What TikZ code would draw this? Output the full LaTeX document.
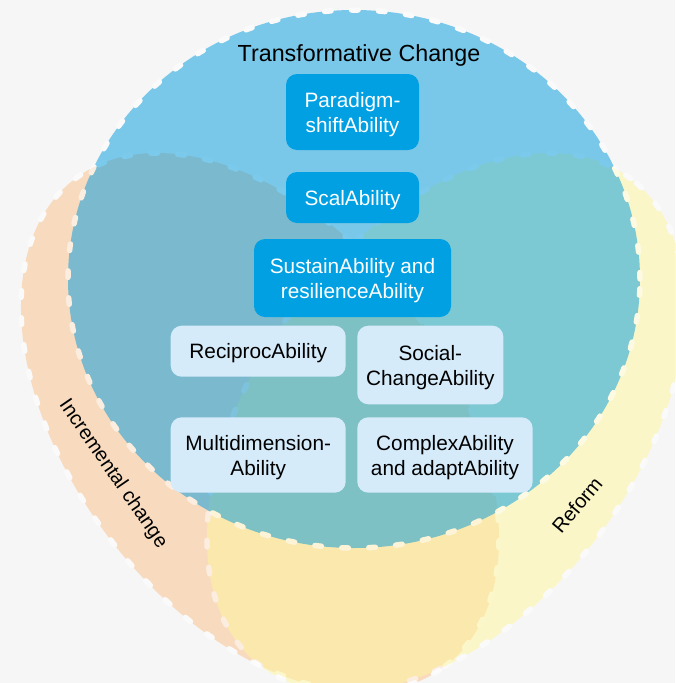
\documentclass[tikz,border=0pt]{standalone}
\usepackage{fontspec}
\setmainfont{Liberation Sans}
\definecolor{bgc}{RGB}{246,246,246}
\definecolor{peachc}{RGB}{250,194,138}
\definecolor{yellowc}{RGB}{255,246,156}
\definecolor{bluec}{RGB}{0,155,222}
\definecolor{darkboxc}{RGB}{0,160,227}
\definecolor{lightboxc}{RGB}{213,235,250}
\tikzset{
  setfill/.style={fill=#1, draw=white, line width=5.5pt, dash pattern=on 6.5pt off 20.5pt, line cap=round},
  boxfont/.style={font=\fontsize{20.8}{25}\selectfont},
  darkstyle/.style={boxfont, fill=darkboxc, rounded corners=11pt, text=white, align=center, inner sep=0pt},
  lightstyle/.style={boxfont, fill=lightboxc, rounded corners=11pt, text=black, align=center, inner sep=0pt},
  oneline/.style={text height=15pt, text depth=0pt},
  twoline/.style={text height=40pt, text depth=0pt},
  sidelabel/.style={font=\fontsize{20}{24}\selectfont, text=black, inner sep=0pt},
}
\begin{document}
\begin{tikzpicture}[x=1pt,y=-1pt]
\useasboundingbox (0,0) rectangle (675,683);
\fill[bgc] (0,0) rectangle (675,683);
\begin{scope}
\clip (0,0) rectangle (675,683);
% Incremental change (left)
\begin{scope}[transparency group, opacity=0.5]
\path[setfill=peachc, rotate around={-52.8:(260,422.5)}] (260,422.5) ellipse [x radius=306pt, y radius=190pt];
\end{scope}
% Reform (right)
\begin{scope}[transparency group, opacity=0.5]
\path[setfill=yellowc, rotate around={52.8:(446,422.5)}] (446,422.5) ellipse [x radius=306pt, y radius=190pt];
\end{scope}
% Transformative change (top)
\begin{scope}[transparency group, opacity=0.5]
\path[setfill=bluec] (354,279) ellipse [x radius=286pt, y radius=269pt];
\end{scope}
\end{scope}

\node[font=\fontsize{23.3}{28}\selectfont, anchor=base, inner sep=0pt] (title) at (359,61.7) {Transformative Change};

\node[darkstyle, twoline, minimum width=133pt, minimum height=76pt] (para) at (352.5,112) {Paradigm-\\shiftAbility};
\node[darkstyle, oneline, minimum width=133pt, minimum height=51pt] (scal) at (352.5,197.5) {ScalAbility};
\node[darkstyle, twoline, minimum width=197pt, minimum height=78pt] (sust) at (352.5,278) {SustainAbility and\\resilienceAbility};

\node[lightstyle, oneline, minimum width=175pt, minimum height=51pt] (reci) at (258.2,351.2) {ReciprocAbility};
\node[lightstyle, twoline, minimum width=146pt, minimum height=78.6pt] (soci) at (430.3,365) {Social-\\ChangeAbility};
\node[lightstyle, twoline, minimum width=175pt, minimum height=75.4pt] (mult) at (258.2,455) {Multidimension-\\Ability};
\node[lightstyle, twoline, minimum width=175.4pt, minimum height=75.4pt] (comp) at (445,455) {ComplexAbility\\and adaptAbility};

\node[sidelabel, rotate=-55.5] (incr) at (113,474) {Incremental change};
\node[sidelabel, rotate=50] (refo) at (577,505) {Reform};
\end{tikzpicture}
\end{document}
